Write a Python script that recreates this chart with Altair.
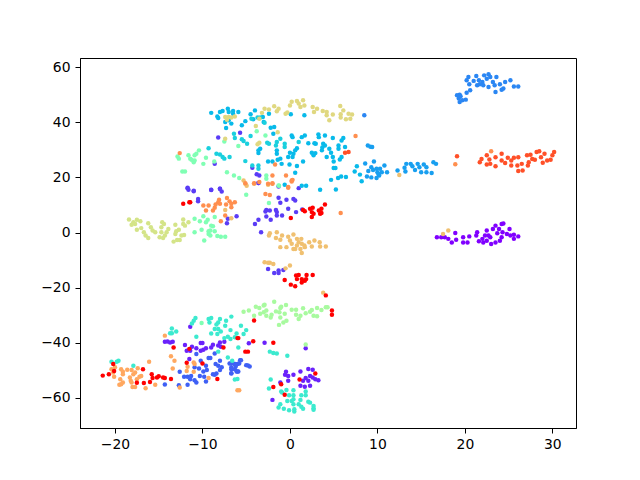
import altair as alt
import pandas as pd

purple = [(16.8,-1.7),(17.3,-1.7),(17.7,-1.7),(18.1,-2.3),(18.5,-3.6),(19,-2.6),(18.9,-0.2),(19.8,-1.7),(19.8,-3.6),(20.3,-3.6),(20.5,-1.4),(21.3,-1.1),(21.4,0.1),(21.6,-3.2),(22,-2.3),(22.5,0.7),(22.3,-1.1),(22.5,-3),(22.9,-1.7),(23,-4.2),(23.5,-3.6),(24,-3),(24.2,-1.7),(23.2,1.3),(23.5,2.5),(23.9,1.3),(24.2,3.1),(24.4,3.3),(24.3,0.1),(24.8,-0.5),(25.1,1.3),(25.2,-1.1),(25.6,-0.8),(25.6,-2.3),(26.1,-1.4),(23.7,-0.3),(22.1,-3.6),(22.7,-1.1)]
violet = [(-11.4,-34.2),(-14.3,-39.6),(-14,-39.5),(-13.7,-39.9),(-13.4,-39.6),(-12,-40.8),(-11.8,-42.9),(-11.4,-42.9),(-11.2,-41.4),(-10.7,-42),(-10.2,-40.1),(-10,-40.1),(-10.2,-42.9),(-9.9,-42.5),(-9.6,-42),(-9,-41.7),(-8.8,-40.7),(-8,-39.9),(-8.2,-41),(-7.9,-41.4),(-7.5,-39.6),(-4.7,-40.2),(-11.5,-45.9),(-2.9,-40),(1.8,-42),(-0.45,-50.5),(-0.56,-51.6),(-0.2,-52),(0.4,-51.6),(1.2,-50.4),(2.1,-49.5),(2.6,-49.8),(2.3,-52),(2.6,-52.6),(2.9,-53.2),(3.25,-53.6),(-0.2,-53.8),(1.5,-53.8),(1.8,-52.8),(2.1,-53.8),(1.2,-55.6),(1.7,-55.9),(2.3,-55.6),(-1.1,-54.4),(-2,-60.7)]
indigo = [(-11.7,16.2),(-11.6,15.5),(-11,15),(-9,15.4),(-8,15.9),(-7.8,14.9),(-10.5,12.2),(-10.5,11.3),(-7.2,3.4),(-7.1,5),(-6.1,5.9),(-3.6,18),(-1.3,16.7),(-1.3,12.6),(-0.4,11.9),(0.4,12.2),(0.6,11.6),(-1.1,10.8),(-0.2,8.6),(-2.7,8.2),(-2.8,7.6),(-2.3,8),(-1.6,8.2),(-1.5,7.4),(-2.7,5.8),(-3.6,4.6),(-2.2,4.6),(-1.5,6.2),(-0.9,6.2),(-4,3.1),(-3.3,0.1),(0.7,7.4),(1.4,8.4),(1,16.1),(-2.5,-13.2),(-1.8,-14.7),(-1.3,-13.8),(-0.75,-13.6),(-1.3,-14.7),(-8.2,34.5),(-5.7,36.2),(-8.6,24.9),(-4.3,23.5),(-3.8,21.1),(-3.5,20.7),(-3.6,18),(-11.7,16.1),(-9,15.5),(-8,15.9),(-11,15.2)]
blue_low = [(-10.7,-44.1),(-8.6,-43.9),(-12.6,-50.5),(-12.1,-52.3),(-11.7,-52.3),(-11.3,-52),(-10.9,-48.9),(-10.4,-49.3),(-10.2,-46.5),(-9.3,-45.5),(-9.1,-45.5),(-9.6,-48.3),(-9.5,-49.9),(-9.9,-50.4),(-10.3,-52),(-9.8,-52.3),(-9.6,-54),(-10.7,-54.4),(-10.9,-53.6),(-11.4,-53.2),(-11.7,-55.2),(-12.7,-55.4),(-14.3,-55.1),(-8.5,-47.7),(-8,-46.5),(-8.2,-48.3),(-7.8,-48.9),(-8,-49.9),(-8.4,-51.1),(-8.8,-51.4),(-8.6,-51.6),(-6.9,-47.5),(-6.3,-47.7),(-5.7,-46.3),(-6,-47.7),(-6.2,-48.6),(-6,-50.4),(-6.7,-49.6),(-6.7,-51.1),(-4.8,-48.2),(-5.6,-46.3),(-5.8,-47.5),(-6.3,-47.7),(-6.7,-47.4),(-6.7,-48.9),(-6.3,-49.6),(-6.1,-50.4),(-5.9,-50.4),(-6.7,-51),(-5,-48.1),(-4.6,-48.6)]
blue_top = [(20.4,56.4),(21.3,56.8),(22.2,57),(22.7,57.4),(23.6,56.4),(20.2,55.2),(20.5,53.8),(21,55),(21.6,55.2),(22,54.6),(22.5,55.8),(22.9,56.4),(23.2,54.6),(23.4,53.4),(24,53.8),(24.6,54.6),(25.2,55.2),(25.6,53),(26.1,53),(24.4,52.2),(24.2,51.8),(23.5,51),(22.7,52.8),(22.1,53.4),(21.7,53.8),(21.4,53.4),(20.6,51.6),(20.2,50.7),(19.4,50),(19.1,49.8),(19.5,49.4),(19.3,48.6),(19.4,47.3),(20.1,48.2),(19.7,48),(8.5,42.5)]
blue_mid = [(8.6,25),(9.6,25.8),(10.8,24.3),(9.3,23.7),(8.96,22.3),(9.5,22.7),(9.9,23.1),(10.3,23.1),(10.5,21.9),(10.1,21.3),(9.9,19.8),(9.3,20),(8.8,20.3),(11.1,21.9),(12.3,22.5),(13.1,23.5),(13.3,24.9),(13.2,22.1),(13.8,24.9),(14,24),(14.6,24.9),(14.8,23.7),(15.3,24.7),(15.6,23.7),(15,21.9),(15.6,21.9),(16.2,21.6),(14.3,22.7),(16.4,25.5),(16.7,24.9),(10,21.9),(10.2,20.7),(8.9,31.6),(9.2,31.1),(9.4,31)]
cyan = [(-9,43.4),(-8,43.7),(-7.7,44.1),(-7.1,44.9),(-7,43.7),(-6.5,44.1),(-6.5,43.1),(-5.9,43.7),(-8.3,42.1),(-8.2,41.5),(-7.4,40.1),(-7,40.7),(-6.7,39.5),(-7.3,37.9),(-5.5,38.9),(-5.1,40.4),(-4.5,42.9),(-4,44.3),(-4.2,41.1),(-2.4,43.1),(-3.1,41.9),(-3,40.1),(-2.2,38),(-1.8,38.3),(0.1,42.9),(1.65,42.5),(-1.9,35.8),(0.2,35.2),(0.3,34.6),(1.7,35.2),(1.35,34.6),(3.25,35.6),(3.3,34.6),(4,35.2),(4.9,34.3),(2.95,32.2),(2.1,32.4),(2.8,32.4),(3.8,32.2),(4,31.6),(6.1,34.3),(5.9,33.4),(5.55,31.6),(6.3,31),(4.5,30.4),(5.55,30.4),(3.7,30.8),(3.65,29.8),(4.7,28.9),(4.2,27.4),(4.9,27.4),(5,25.8),(5.9,27.4),(5.7,26.5),(2.5,28.9),(2.9,28.8),(2.7,28),(0.8,30.6),(0.6,29.8),(0.4,28.6),(0.3,27.4),(0,28.9),(-1.5,28.6),(-1.5,29.8),(-1.1,26.8),(-1.4,26.4),(-0.2,27.4),(-2.5,25.8),(-2,25.8),(-0.05,24.7),(0.8,24.1),(1.5,25.8),(-0.95,24.9),(-3.6,29.8),(-3.4,30.4),(-3.6,28.8),(7.4,22.1),(6.4,20.1),(5.85,20.3),(5.5,19.8),(4.7,19.1),(8,21),(8.2,18.6),(5.25,15.6),(3.45,15.5),(1.35,17),(1.85,17),(-0.6,17.3),(0.6,21.7),(7.65,24),(5.2,23.4),(5,23.4)]
teal = [(-4.5,35),(-5.5,33.8),(-5.3,33.2),(-4.9,32.2),(-6.4,35.8),(-6.3,34.3),(-8.4,28.6),(-8,28.3),(-7.7,27.4),(-7.5,26.8),(-6.9,27.4),(-9.3,30.6),(-5.1,25.9),(-4.3,24.3),(-3.6,24.3),(-3.6,23.1),(-2.6,32.6),(-2.4,32.2),(-1.5,32.8),(-1.6,31.6),(-1.1,34),(-0.6,32.2),(-0.6,31),(1,32.8),(-4.4,41.3),(-3.7,41.7),(-3.4,41.7),(-2.9,39.8)]
turquoise = [(-20.4,-46.9),(-19.8,-46.9),(-19.6,-46.5),(-17.9,-48.3),(-13.5,-34.8),(-13,-35.9),(-13.7,-36.5),(-13.5,-36.5),(-10.8,-31),(-11,-32),(-11.2,-33),(-10.7,-37.8),(-9.3,-31.4),(-9,-31),(-9.2,-32.6),(-8,-31.4),(-8.2,-32.6),(-8.4,-33.4),(-7.3,-32),(-7.4,-33.8),(-8.6,-35),(-8.2,-35),(-7.9,-35.9),(-9,-36.6),(-8.3,-36.8),(-6.8,-35.4),(-6.7,-30.5),(-5.6,-33.8),(-5,-35.4),(-5.3,-36.8),(-6.1,-36.6),(-7.1,-37.8),(-7.5,-38.3),(-6.8,-38.6),(-6.3,-38),(-5.9,-41.7),(-8.2,-43.2),(-7.1,-45.3),(-6.6,-46.5),(-6.3,-53.3),(-6,-53.1),(-2.3,-43.2),(-1.9,-43.7),(-1.5,-43.9),(-0.3,-44.7),(-2.2,-53.3),(-2.4,-56.6),(-1,-57.7),(-0.4,-57.1),(0.4,-57.2),(1.8,-57.7),(-0.9,-58),(-0.1,-59),(0.4,-59),(1.3,-59),(1.8,-59),(-0.3,-61.1),(0.2,-61.1),(0.4,-60.5),(1.2,-60.7),(-1.1,-62.3),(-1.3,-63.5),(-0.7,-63.9),(-0.1,-64.5),(0.5,-64.1),(0.5,-64.9),(1,-62.3),(1.3,-63.2),(1.5,-63.9),(2.1,-61.4),(2.3,-61.7),(2.7,-62.9),(2.7,-63.7),(2.7,-64.3),(0.4,-62.3)]
aqua = [(-10.9,5),(-10.3,4.1),(-9.9,5.9),(-9.4,4.6),(-9.6,3.7),(-8.6,5.6),(-9,2.5),(-8.8,2.3),(-10.1,1),(-10.9,0.1),(-9.3,0.5),(-9.1,0.7),(-8.6,0.5),(-9.3,-0.5),(-9.1,-1.1),(-8.3,-1.3),(-7.9,-1.5),(-7.4,-1.5),(-9.8,-2.9),(-5,13.7),(-2.4,10.7),(-1.3,17.1),(-12.85,27.6),(-12.7,26.8),(-11.6,28),(-11.4,26.8),(-10.9,28),(-10.7,28.6),(-10.4,29.8),(-10.9,26.1),(-11,25.5),(-11.25,26.4),(-9.9,24.9),(-9.6,27.1),(-8.65,25.8),(-12.3,22.1),(-12,22.1),(-7.2,21.9),(-6.4,20.7),(-5.8,19.8),(-2.7,20.7),(-2.7,19.5),(-1.25,17),(-5.9,31.4),(-3.8,36.7),(-2.8,35.2),(-7.5,33),(-10.1,-32.8)]
green = [(-5.3,-28.7),(-4.7,-28.3),(-3.9,-26.9),(-3.5,-27.4),(-3,-26.5),(-2.9,-26.2),(-1.8,-25.1),(-1,-26.9),(-0.45,-26.3),(-1.1,-27.4),(-4.1,-30.2),(-3.4,-29.5),(-3,-28.9),(-2.7,-28.3),(-2.7,-30.2),(-2.2,-30.8),(-2.1,-29.8),(-1.6,-28.6),(-1.2,-28.9),(-0.6,-29.5),(-1.1,-30.8),(-0.75,-32.6),(-0.4,-32),(-1.25,-33.5),(0.2,-28),(0.7,-28),(0.7,-29.8),(1.2,-30.2),(1,-31.4),(1.5,-27.5),(1.8,-29.3),(2.3,-28.7),(2.5,-28.1),(3.1,-27.4),(3.6,-28.1),(4.1,-27.1),(4.3,-27.1),(2.7,-30.2),(3.1,-30.4),(1.8,-40.6)]
lime = [(-18.4,4.7),(-17.9,3.7),(-17.5,4.6),(-17.1,4.1),(-18.1,2.8),(-17.7,3.1),(-17.5,1),(-17,1.6),(-16.7,0.1),(-16.5,-1.1),(-16.2,-2),(-16.2,3.4),(-15.9,1.9),(-15.7,0.7),(-15.4,0.1),(-14.9,-1.7),(-14.5,-2),(-14.7,0.1),(-14.6,3.7),(-14.4,3.1),(-14.7,1.9),(-13.9,1.3),(-14.1,0.1),(-14.3,-1.1),(-13.1,2.8),(-12.2,4.7),(-11.6,3.7),(-12.2,3.1),(-12,2.5),(-12.7,1),(-13,0.5),(-13.1,-0.5),(-13.3,-3.3),(-12.9,-2.7),(-12.6,-2.7),(-12.1,-0.9),(-12.4,-1.1)]
khaki = [(-7.4,41.9),(-7,41.9),(-6.7,41.7),(-6.3,42.1),(-7.2,40.9),(-2.9,44.9),(-2.4,44.6),(-3.2,43.4),(-1.8,45.8),(-1.3,44.9),(-1.5,44),(-0.5,43.1),(-0.3,43.5),(0.2,47.4),(0,46.1),(0.8,47.7),(1.5,48),(1.65,46.1),(1,46.8),(1.2,45.5),(2.6,45.5),(3.1,44.9),(2.75,43.7),(3.75,44.1),(4.2,43.7),(4.2,42.5),(4.9,42.8),(4.5,40.7),(5.75,45.9),(6.1,44.3),(5.8,42.9),(5.8,41.7),(6.4,41.1),(6.7,43.1),(7.1,42.8),(6.9,41.3),(-3.9,38.6),(-3.5,41.3),(-1.4,36.4),(-3.5,32.6),(-3.7,32),(-7.4,34)]
sand = [(-2.3,-0.3),(-2.4,-1.1),(-1.5,0.1),(-0.9,-1.1),(-1.6,-2),(-1.1,-2.6),(-0.2,-1.5),(0.4,-0.7),(0,-2.9),(0.2,-4.1),(0.8,-2.3),(1.3,-2.3),(1,-3.5),(0.8,-4.7),(0.4,-6),(0.6,-6),(1.35,-4.1),(1.2,-6),(1.35,-7.4),(1.65,-4.7),(2.2,-3.5),(2.5,-5.1),(2.8,-2.9),(3.4,-3.5),(3.45,-5.1),(4.1,-5.1),(-1.1,-5.3),(-0.4,-5.3),(1.7,-5.3),(-2.9,-10.8),(-2.5,-11),(-2.3,-11),(-1.9,-11.4),(-0.5,-13),(0,-12),(3.8,-21.8),(-6.7,5.2),(-7.4,8.2),(18.1,0.7),(17.5,-0.5),(12.5,20.9),(-5.3,18.9),(-5.1,17.7),(-4.95,17),(-4.1,17.7),(-2.5,17.3)]
peach = [(-20.4,-49.6),(-20,-48.9),(-20.2,-50.8),(-20.1,-52.3),(-19.3,-49.6),(-19.1,-50.5),(-19.1,-51.4),(-18.6,-49.8),(-18.1,-49.9),(-17.7,-50.8),(-17.9,-51.4),(-17.4,-49.2),(-16.1,-46.9),(-17,-52),(-17.2,-52.3),(-17.5,-53.2),(-19.4,-53.2),(-19.1,-54.4),(-19.5,-55.2),(-19.3,-55),(-18.3,-52.6),(-18.2,-53.8),(-18.1,-54.4),(-18,-56),(-17.7,-56),(-16.5,-56.5),(-15.4,-55.2),(-14.3,-37.4),(-13.6,-44.9),(-13.2,-46.5),(-13.4,-49.3),(-10.9,-47.7),(-11,-47.1),(-11.7,-48.7),(-11.8,-50.2),(-11,-50.5),(-9.3,-52.8),(-6,-57.2),(-12.6,-56.2),(-5.8,-57.2)]
orange = [(-8.1,11.9),(-8.2,11),(-7.2,12.5),(-6.9,11.3),(-6.3,11),(-6.7,10.4),(-7.3,10.2),(-6.7,9.2),(-9.3,9.8),(-9.9,9.8),(-9.6,8),(-8.8,8),(-8.6,9),(-8.5,10.2),(-8,10.4),(-7.4,6.2),(-7.9,4.1),(-5.1,17.9),(-4.1,17.9),(-3.5,18.3),(-2.5,17.7),(-2,17.9),(-2.8,14),(-2.3,13.6),(-0.2,16.5),(0.2,18.5),(-12.6,28.8),(7.5,35),(-1.7,24.7),(-2,20.7),(-0.45,20.7),(0.2,18.9),(0.3,19.1),(-2,17.7),(-0.2,16.2),(18.9,24.8),(23,29.5),(5.8,7.1)]
tomato = [(19.1,27.7),(21.7,25.5),(21.9,26.7),(22.5,28),(22.8,26.5),(22.5,24.7),(22.9,24.9),(23.5,24),(23.5,27.3),(24.2,28.6),(24.2,26.1),(24.6,25.2),(24.9,27.1),(25.3,26.1),(25.6,27.1),(26.1,27.3),(25.3,24.3),(26,24.3),(26.5,24.9),(26.1,22.3),(26.6,22.5),(27.1,28),(27.5,28.2),(27.7,26.7),(27.3,25.5),(27.2,24.3),(28,26.4),(28.2,29.2),(28.5,29.5),(28.7,27.3),(29.1,28.6),(28.9,25.3),(29.4,26.1),(29.8,26.4),(30,28),(30.2,29.2),(6.3,28.9),(6.7,29.2)]
red = [(-21.4,-51.9),(-20.7,-51.4),(-20.2,-47.7),(-20.1,-50.2),(-16.8,-49.6),(-17.5,-54.5),(-16.7,-54.6),(-16,-54.2),(-15.8,-51.4),(-15.7,-52.8),(-15.2,-52.6),(-15,-52.1),(-14.5,-52.6),(-14.3,-52.8),(-13.6,-53.1),(-13.3,-41.7),(-11.5,-42.2),(-11.8,-47.2),(-10,-47.5),(-7.6,-41.7),(-8.3,-53.1),(-5.9,-38.3),(-5.1,-43.2),(-4.8,-43.2),(-4.1,-31.9),(-6,-38.3),(-4.2,-39.4),(-1.9,-40),(4.8,-28.3),(4.8,-29.8),(2.9,-51.1),(1.1,-53.3),(-1.9,-56),(-1,-55),(-0.6,-58.8),(-12.2,10.4),(-11.5,11),(-11.4,11),(0.1,5.3),(1.7,7.7),(1.5,8.2),(2.3,8.6),(2.6,9),(2.5,7.4),(2.7,6.8),(2.5,5.6),(3.3,8),(3.6,8.6),(4,10.2),(3.45,6.8),(3.6,7.1),(-0.6,-17.2),(0.1,-18.9),(0.6,-19.5),(0.8,-16.9),(0.7,-15.6),(1,-15.4),(1.35,-16.9),(1.7,-17.5),(1.9,-15.4),(2.6,-15.4),(1.35,-18.1),(1.85,-16.9),(4.1,-22.8)]

groups = [
    ("purple", "#8000ff", purple), ("violet", "#6a22fb", violet), ("indigo", "#5a3cf6", indigo),
    ("blue_low", "#3f60f5", blue_low), ("blue_top", "#2a86f3", blue_top), ("blue_mid", "#189ff0", blue_mid),
    ("cyan", "#08baea", cyan), ("teal", "#1ad0de", teal), ("turquoise", "#3ceacf", turquoise),
    ("aqua", "#80ffb4", aqua), ("green", "#a8fa9f", green), ("lime", "#d4e488", lime),
    ("khaki", "#e0d880", khaki), ("sand", "#f0c070", sand), ("peach", "#ffa860", peach),
    ("orange", "#ff8f4f", orange), ("tomato", "#ff5028", tomato), ("red", "#ff0000", red),
]

rows = [{"x": p[0], "y": p[1], "g": name, "o": i} for i, (name, _, pts) in enumerate(groups) for p in pts]
df = pd.DataFrame(rows)

chart = alt.Chart(df).mark_circle(size=20, opacity=1).encode(
    x=alt.X("x:Q", scale=alt.Scale(domain=[-24.0, 32.7], nice=False, zero=False),
            axis=alt.Axis(values=[-20, -10, 0, 10, 20, 30], title=None, grid=False, format="d", labelPadding=4)),
    y=alt.Y("y:Q", scale=alt.Scale(domain=[-70.9, 63.3], nice=False, zero=False),
            axis=alt.Axis(values=[-60, -40, -20, 0, 20, 40, 60], title=None, grid=False, format="d", labelPadding=5)),
    color=alt.Color("g:N", legend=None,
                    scale=alt.Scale(domain=[g[0] for g in groups], range=[g[1] for g in groups])),
    order="o:Q",
).properties(
    width=496, height=370,
    autosize=alt.AutoSizeParams(type="none"),
    padding={"left": 72, "top": 50, "right": 56, "bottom": 44},
).configure_view(stroke="black", strokeWidth=1).configure_axis(
    domainColor="black", domainWidth=1, tickColor="black", tickWidth=1, tickSize=5,
    labelColor="black", labelFont="DejaVu Sans", labelFontSize=13.9,
)

chart.save("out.html", embed_options={"renderer": "svg", "actions": False})
